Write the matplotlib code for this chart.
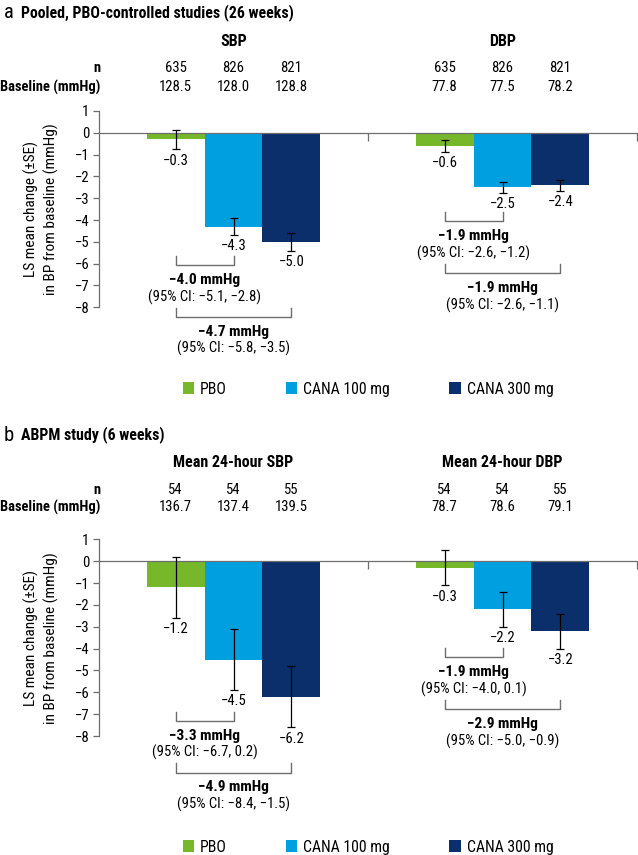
import matplotlib
matplotlib.use("Agg")
import matplotlib.pyplot as plt
import matplotlib.transforms as mtransforms
from matplotlib import font_manager
from matplotlib.font_manager import FontProperties
from matplotlib.textpath import TextPath
from matplotlib.patches import Patch
import numpy as np

# ---- data ----
treatments = ['PBO', 'CANA 100 mg', 'CANA 300 mg']
colors = ['#76b82a', '#00a0e0', '#0a2f6b']

# panel a: pooled, PBO-controlled studies (26 weeks)
groups_a = ['SBP', 'DBP']
n_a = [[635, 826, 821], [635, 826, 821]]
baseline_a = [[128.5, 128.0, 128.8], [77.8, 77.5, 78.2]]
change_a = [[-0.3, -4.3, -5.0], [-0.6, -2.5, -2.4]]
se_a = [[0.45, 0.39, 0.40], [0.27, 0.25, 0.25]]
diff_a = [[-4.0, -4.7], [-1.9, -1.9]]
ci_a = [[(-5.1, -2.8), (-5.8, -3.5)], [(-2.6, -1.2), (-2.6, -1.1)]]

# panel b: ABPM study (6 weeks)
groups_b = ['Mean 24-hour SBP', 'Mean 24-hour DBP']
n_b = [[54, 54, 55], [54, 54, 55]]
baseline_b = [[136.7, 137.4, 139.5], [78.7, 78.6, 79.1]]
change_b = [[-1.2, -4.5, -6.2], [-0.3, -2.2, -3.2]]
se_b = [[1.4, 1.4, 1.4], [0.8, 0.8, 0.8]]
diff_b = [[-3.3, -4.9], [-1.9, -2.9]]
ci_b = [[(-6.7, 0.2), (-8.4, -1.5)], [(-4.0, 0.1), (-5.0, -0.9)]]

# bracket levels (layout only)
levels_a = [[-6.07, -8.44], [-4.05, -6.45]]
levels_b = [[-7.31, -9.68], [-4.39, -6.77]]

# pick a narrow font if there is one
avail = {f.name for f in font_manager.fontManager.ttflist}
family = 'Roboto'
for cand in ['Liberation Sans Narrow', 'Roboto Condensed', 'Arial Narrow', 'Noto Sans Condensed']:
    if cand in avail:
        family = cand
        break
plt.rcParams['font.family'] = [family, 'DejaVu Sans']


def fit(s, px, weight='normal'):
    # font size (pt) so that s is about px pixels wide at 100 dpi
    w = TextPath((0, 0), s, size=10, prop=FontProperties(family=family, weight=weight)).get_extents().width
    return 10 * px * 0.72 / w


fs_small = fit('(95% CI: \u22125.1, \u22122.8)', 112)
fs_diff = fit('\u22124.0 mmHg', 69, 'bold')
fs_head = fit('Mean 24-hour SBP', 119, 'bold')
fs_title = fit('Pooled, PBO-controlled studies (26 weeks)', 272, 'bold')
fs_row = fit('Baseline (mmHg)', 99, 'bold')
fs_leg = fit('CANA 100 mg', 85)
fs_ylab = fit('in BP from baseline (mmHg)', 170)

W, H = 638, 855
fig = plt.figure(figsize=(W / 100, H / 100), dpi=100)

width = 0.215
offsets = np.array([-width, 0, width])
centers = np.array([0.5, 1.5])
gray = '#6e6e6e'


def m(v):
    return f"{v:.1f}".replace('-', '\u2212')


def fy(px):
    return 1 - px / H


def panel(top_px, bottom_px, letter, title, title_px, groups, head_px, n, base,
          change, se, diff, ci, levels, legend_px):
    ax = fig.add_axes([99 / W, fy(bottom_px), 538 / W, (bottom_px - top_px) / H])
    ax.set_xlim(0, 2)
    ax.set_ylim(-8, 1)
    ax.set_yticks(range(-8, 2))
    ax.yaxis.set_major_formatter(plt.FuncFormatter(lambda v, p: f"{int(v)}".replace('-', '\u2212')))
    ax.tick_params(axis='y', length=4, width=0.9, color=gray, labelsize=fs_small, pad=3)
    ax.set_xticks([1, 2])
    ax.set_xticklabels([])
    ax.tick_params(axis='x', length=6, width=0.9, color=gray, direction='out')
    for s in ['top', 'right']:
        ax.spines[s].set_visible(False)
    ax.spines['bottom'].set_position(('data', 0))
    for s in ['bottom', 'left']:
        ax.spines[s].set_color(gray)
        ax.spines[s].set_linewidth(0.9)

    ymid = fy((top_px + bottom_px) / 2)
    fig.text(31.7 / W, ymid, 'LS mean change (\u00b1SE)', rotation=90, fontsize=fs_ylab,
             ha='center', va='center')
    fig.text(51.7 / W, ymid, 'in BP from baseline (mmHg)', rotation=90, fontsize=fs_ylab,
             ha='center', va='center')

    trans = mtransforms.blended_transform_factory(ax.transData, fig.transFigure)
    fig.text(4 / W, fy(title_px), letter, fontsize=fs_title * 1.3, va='center', ha='left')
    fig.text(21 / W, fy(title_px), title, fontsize=fs_title, fontweight='bold', va='center', ha='left')
    fig.text(100 / W, fy(head_px[1]), 'n', fontsize=fs_row, fontweight='bold', va='center', ha='right')
    fig.text(100 / W, fy(head_px[2]), 'Baseline (mmHg)', fontsize=fs_row, fontweight='bold',
             va='center', ha='right')

    for g in range(2):
        xs = centers[g] + offsets
        ax.text(centers[g], fy(head_px[0]), groups[g], transform=trans, fontsize=fs_head,
                fontweight='bold', ha='center', va='center')
        for i in range(3):
            ax.text(xs[i], fy(head_px[1]), str(n[g][i]), transform=trans, fontsize=fs_small,
                    ha='center', va='center')
            ax.text(xs[i], fy(head_px[2]), f"{base[g][i]:.1f}", transform=trans, fontsize=fs_small,
                    ha='center', va='center')
            ax.bar(xs[i], change[g][i], width=width, color=colors[i], zorder=1)
            ax.errorbar(xs[i], change[g][i], yerr=se[g][i], color='black', elinewidth=0.9,
                        capsize=3, capthick=0.9, zorder=3)
            ax.text(xs[i], change[g][i] - se[g][i] - 0.52, m(change[g][i]), fontsize=fs_small,
                    ha='center', va='center', clip_on=False)
        for k in range(2):
            x1, x2 = xs[0], xs[k + 1]
            yb = levels[g][k]
            ax.plot([x1, x1, x2, x2], [yb + 0.43, yb, yb, yb + 0.43], color=gray, lw=1,
                    clip_on=False)
            xm = (x1 + x2) / 2
            ax.text(xm, yb - 0.67, f"{m(diff[g][k])} mmHg", fontsize=fs_diff, fontweight='bold',
                    ha='center', va='center', clip_on=False)
            ax.text(xm, yb - 1.46, f"(95% CI: {m(ci[g][k][0])}, {m(ci[g][k][1])})", fontsize=fs_small,
                    ha='center', va='center', clip_on=False)

    handles = [Patch(facecolor=c, edgecolor='none', label=t) for c, t in zip(colors, treatments)]
    fpx = fs_leg * 100 / 72
    fig.legend(handles=handles, loc='center', bbox_to_anchor=(368 / W, fy(legend_px)), ncol=3,
               frameon=False, fontsize=fs_leg, handlelength=11.5 / fpx, handleheight=11.5 / fpx,
               handletextpad=6 / fpx, columnspacing=59 / fpx, borderpad=0, borderaxespad=0)
    return ax


panel(111, 307.3, 'a', 'Pooled, PBO-controlled studies (26 weeks)', 13, groups_a,
      (42, 68, 87), n_a, baseline_a, change_a, se_a, diff_a, ci_a, levels_a, 389)
panel(539.3, 736, 'b', 'ABPM study (6 weeks)', 435, groups_b,
      (462, 490, 507), n_b, baseline_b, change_b, se_b, diff_b, ci_b, levels_b, 847)

fig.savefig('out.png', dpi=100)
